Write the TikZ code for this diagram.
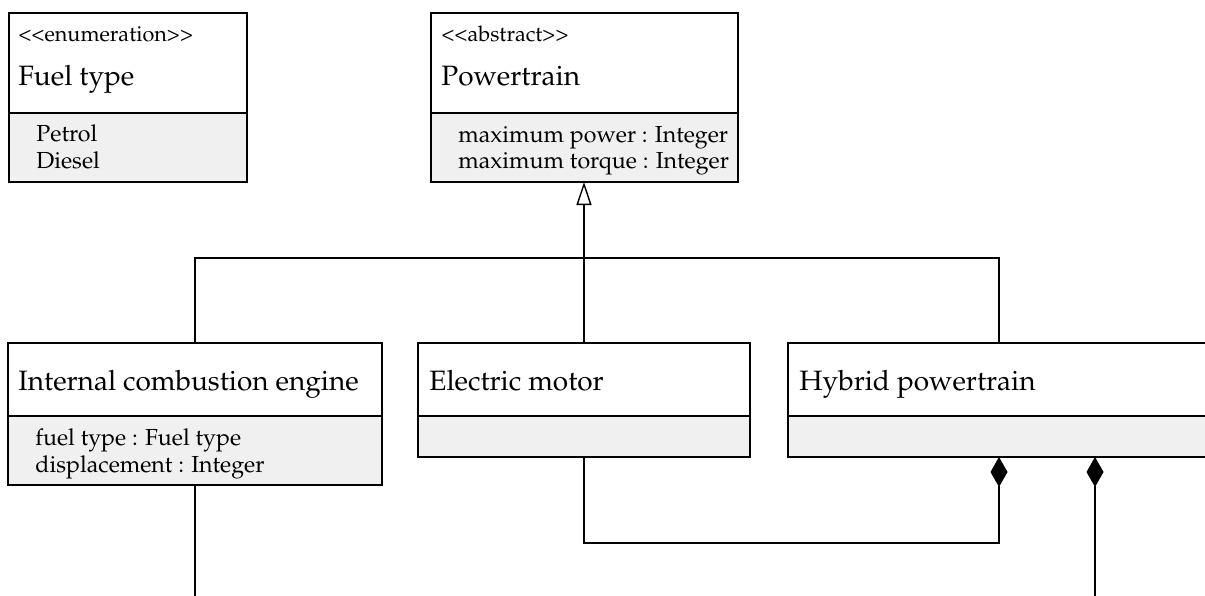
\documentclass[tikz,border=0pt]{standalone}
\usepackage[T1]{fontenc}
\usepackage{mathpazo}
\usepackage{tikz}
\usetikzlibrary{arrows.meta}
\definecolor{attrgray}{HTML}{F0F0F0}
\newcommand{\ltlt}{\textless\kern0pt\textless}
\newcommand{\gtgt}{\textgreater\kern0pt\textgreater}

\tikzset{
  head/.style = {draw, fill=white, line width=0.7pt, anchor=north west, inner sep=0pt, outer sep=0pt, minimum height=50pt},
  attrbox/.style = {draw, fill=attrgray, line width=0.7pt, anchor=north west, inner sep=0pt, outer sep=0pt, minimum height=34.5pt},
  stereo/.style = {anchor=base west, inner sep=0pt, font=\fontsize{10.8}{12}\selectfont},
  cname/.style = {anchor=base west, inner sep=0pt, font=\fontsize{14}{16}\selectfont},
  attr/.style = {anchor=base west, inner sep=0pt, font=\fontsize{11.6}{13}\selectfont},
  link/.style = {line width=0.7pt},
  gen/.style = {-{Triangle[open, width=7.5pt, length=11.5pt]}},
  comp/.style = {-{Diamond[width=8.5pt, length=15pt]}}
}

\begin{document}
\begin{tikzpicture}[x=0.5pt, y=-0.5pt]
            \useasboundingbox (0,0) rectangle (1205,595);
            % Fuel type
            \node [head, minimum width=119pt] (fuelHead) at (9,13) {};
            \node [attrbox, minimum width=119pt] (fuelAttr) at (9,113) {};
            \node [stereo] (fuelS) at (18,41) {\ltlt enumeration\gtgt};
            \node [cname] (fuelN) at (18,85) {Fuel type};
            \node [attr] (fuelA1) at (36,141) {Petrol};
            \node [attr] (fuelA2) at (36,168) {Diesel};
            % Powertrain
            \node [head, minimum width=153.5pt] (ptHead) at (431,13) {};
            \node [attrbox, minimum width=153.5pt] (ptAttr) at (431,113) {};
            \node [stereo] (ptS) at (441,41) {\ltlt abstract\gtgt};
            \node [cname] (ptN) at (441,85) {Powertrain};
            \node [attr] (ptA1) at (458,142) {maximum power : Integer};
            \node [attr] (ptA2) at (458,168) {maximum torque : Integer};
            % Internal combustion engine
            \node [head, minimum width=187pt, minimum height=36.5pt] (iceHead) at (8,343) {};
            \node [attrbox, minimum width=187pt] (iceAttr) at (8,416) {};
            \node [cname] (iceN) at (18,390) {Internal combustion engine};
            \node [attr] (iceA1) at (35,445) {fuel type : Fuel type};
            \node [attr] (iceA2) at (35,472) {displacement : Integer};
            % Electric motor
            \node [head, minimum width=166pt, minimum height=36.5pt] (emHead) at (418,343) {};
            \node [attrbox, minimum width=166pt, minimum height=20.5pt] (emAttr) at (418,416) {};
            \node [cname] (emN) at (429,390) {Electric motor};
            % Hybrid powertrain
            \node [head, minimum width=211pt, minimum height=36.5pt] (hybHead) at (788,343) {};
            \node [attrbox, minimum width=211pt, minimum height=20.5pt] (hybAttr) at (788,416) {};
            \node [cname] (hybN) at (799,390) {Hybrid powertrain};
            % Vererbung
            \coordinate (genJoin) at (584,258);
            \draw [link, gen] (emHead.north) -- (emHead.north |- ptAttr.south);
            \draw [link] (iceHead.north) |- (genJoin) -| (hybHead.north);
            % Komposition
            \coordinate (compBend) at (999,543);
            \coordinate (engOut) at (1095,600);
            \coordinate (iceOut) at (195,600);
            \draw [link, comp] (emAttr.south) |- (compBend) -- (hybAttr.south);
            \draw [link, comp] (engOut) -- (hybAttr.south -| engOut);
            \draw [link] (iceAttr.south) -- (iceOut);
        \end{tikzpicture}
\end{document}
